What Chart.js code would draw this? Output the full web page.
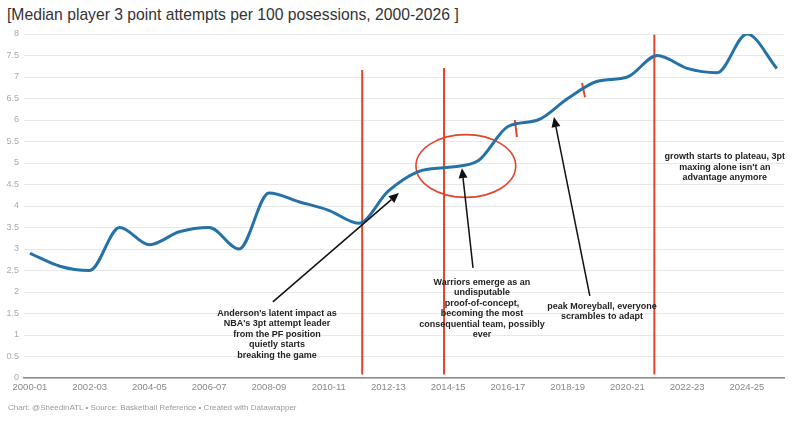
<!DOCTYPE html>
<html>
<head>
<meta charset="utf-8">
<script src="https://cdn.jsdelivr.net/npm/chart.js@4"></script>
<style>
  html, body { margin: 0; padding: 0; background: #fff; }
  body { width: 800px; height: 421px; position: relative; overflow: hidden; font-family: "Liberation Sans", Arial, sans-serif; }
  #titulo { position: absolute; left: 7px; top: 6px; font-size: 15.7px; color: #333; white-space: nowrap; }
  #fuente { position: absolute; left: 8px; top: 403px; font-size: 8px; color: #999; white-space: nowrap; }
  canvas { position: absolute; left: 0; top: 0; }
</style>
</head>
<body>
<div id="titulo">[Median player 3 point attempts per 100 posessions, 2000-2026 ]</div>
<canvas id="grafica_triples" width="800" height="421"></canvas>
<div id="fuente">Chart: @SheedinATL • Source: Basketball Reference • Created with Datawrapper</div>

<script>
const temporadas = ["2000-01","2001-02","2002-03","2003-04","2004-05","2005-06","2006-07","2007-08",
  "2008-09","2009-10","2010-11","2011-12","2012-13","2013-14","2014-15","2015-16","2016-17",
  "2017-18","2018-19","2019-20","2020-21","2021-22","2022-23","2023-24","2024-25","2025-26"];
const intentos = [2.9, 2.6, 2.5, 3.5, 3.1, 3.4, 3.5, 3.0, 4.3, 4.1, 3.9, 3.6, 4.35,
  4.8, 4.9, 5.05, 5.85, 6.0, 6.5, 6.9, 7.0, 7.5, 7.2, 7.1, 8.0, 7.2];
const etiquetasX = [0, 2, 4, 6, 8, 10, 12, 14, 16, 18, 20, 22, 24];

// anotaciones (en coordenadas de datos: indice de temporada, valor)
const lineasRojas = [[11.12, 7.16], [13.86, 7.21], [20.9, 7.98]];
const marcasRojas = [[16.23, 6.0, 16.3, 5.6], [18.48, 6.86, 18.58, 6.53]];
const elipse = [14.59, 4.93, 1.67, 0.73];
const flechas = [
  [8.13, 1.77, 12.35, 4.3],
  [14.83, 2.56, 14.46, 4.88],
  [18.74, 1.91, 17.54, 6.07]
];
const notas = [
  [8.27, 1.51, ["Anderson's latent impact as", "NBA's 3pt attempt leader", "from the PF position", "quietly starts", "breaking the game"]],
  [15.13, 2.23, ["Warriors emerge as an", "undisputable", "proof-of-concept,", "becoming the most", "consequential team, possibly", "ever"]],
  [19.15, 1.67, ["peak Moreyball, everyone", "scrambles to adapt"]],
  [23.26, 5.14, ["growth starts to plateau, 3pt", "maxing alone isn't an", "advantage anymore"]]
];

const rojo = "#e5432c";

const anotacionesFondo = {
  id: "anotacionesFondo",
  beforeDatasetsDraw(chart) {
    const {ctx, scales: {x, y}} = chart;
    ctx.save();
    ctx.strokeStyle = rojo;
    ctx.lineWidth = 2;
    lineasRojas.forEach(([v, top]) => {
      const px = x.getPixelForValue(v);
      ctx.beginPath();
      ctx.moveTo(px, y.getPixelForValue(top));
      ctx.lineTo(px, y.getPixelForValue(0.08));
      ctx.stroke();
    });
    marcasRojas.forEach(([x1, y1, x2, y2]) => {
      ctx.beginPath();
      ctx.moveTo(x.getPixelForValue(x1), y.getPixelForValue(y1));
      ctx.lineTo(x.getPixelForValue(x2), y.getPixelForValue(y2));
      ctx.stroke();
    });
    const [cx, cy, rx, ry] = elipse;
    const pcx = x.getPixelForValue(cx), pcy = y.getPixelForValue(cy);
    ctx.lineWidth = 1.6;
    ctx.beginPath();
    ctx.ellipse(pcx, pcy, x.getPixelForValue(cx + rx) - pcx, pcy - y.getPixelForValue(cy + ry), 0, 0, Math.PI * 2);
    ctx.stroke();
    ctx.restore();
  }
};

const anotacionesFrente = {
  id: "anotacionesFrente",
  afterDatasetsDraw(chart) {
    const {ctx, scales: {x, y}} = chart;
    ctx.save();
    ctx.strokeStyle = "#111";
    ctx.fillStyle = "#111";
    ctx.lineWidth = 1.5;
    flechas.forEach(([x1, y1, x2, y2]) => {
      const ax = x.getPixelForValue(x1), ay = y.getPixelForValue(y1);
      const bx = x.getPixelForValue(x2), by = y.getPixelForValue(y2);
      const ang = Math.atan2(by - ay, bx - ax);
      const largo = 10, ancho = 4.5;
      const baseX = bx - largo * Math.cos(ang), baseY = by - largo * Math.sin(ang);
      ctx.beginPath();
      ctx.moveTo(ax, ay);
      ctx.lineTo(baseX, baseY);
      ctx.stroke();
      ctx.beginPath();
      ctx.moveTo(bx, by);
      ctx.lineTo(baseX + ancho * Math.sin(ang), baseY - ancho * Math.cos(ang));
      ctx.lineTo(baseX - ancho * Math.sin(ang), baseY + ancho * Math.cos(ang));
      ctx.closePath();
      ctx.fill();
    });
    ctx.font = "bold 9px 'Liberation Sans', Arial, sans-serif";
    ctx.textAlign = "center";
    ctx.textBaseline = "middle";
    ctx.fillStyle = "#222";
    notas.forEach(([nx, ny, lineas]) => {
      const px = x.getPixelForValue(nx), py = y.getPixelForValue(ny);
      lineas.forEach((t, i) => ctx.fillText(t, px, py + i * 10.5));
    });
    ctx.restore();
  }
};

new Chart("grafica_triples", {
  type: "line",
  data: {
    datasets: [{
      data: intentos.map((v, i) => ({x: i, y: v})),
      borderColor: "#2572a8",
      borderWidth: 3,
      pointRadius: 0,
      cubicInterpolationMode: "monotone",
      fill: false
    }]
  },
  options: {
    responsive: false,
    animation: false,
    layout: { padding: { top: 34, right: 16, bottom: 23, left: 0 } },
    plugins: { legend: { display: false }, tooltip: { enabled: false } },
    scales: {
      x: {
        type: "linear",
        min: -0.2,
        max: 25.24,
        afterBuildTicks: s => { s.ticks = etiquetasX.map(v => ({value: v})); },
        afterFit: s => { s.height = 20; },
        grid: { display: false, drawTicks: false, tickLength: 0 },
        border: { color: "#8a8a8a", width: 1.5 },
        ticks: {
          autoSkip: false,
          maxRotation: 0,
          padding: 4,
          color: "#888",
          font: { family: "'Liberation Sans', Arial, sans-serif", size: 9.5 },
          callback: v => temporadas[v]
        }
      },
      y: {
        min: 0,
        max: 8,
        afterFit: s => { s.width = 24; },
        grid: { color: "#e8e8e8", drawTicks: false },
        border: { display: false },
        ticks: {
          stepSize: 0.5,
          padding: 5,
          color: "#aaa",
          font: { family: "'Liberation Sans', Arial, sans-serif", size: 9 },
          callback: v => String(v)
        }
      }
    }
  },
  plugins: [anotacionesFondo, anotacionesFrente]
});
</script>
</body>
</html>
